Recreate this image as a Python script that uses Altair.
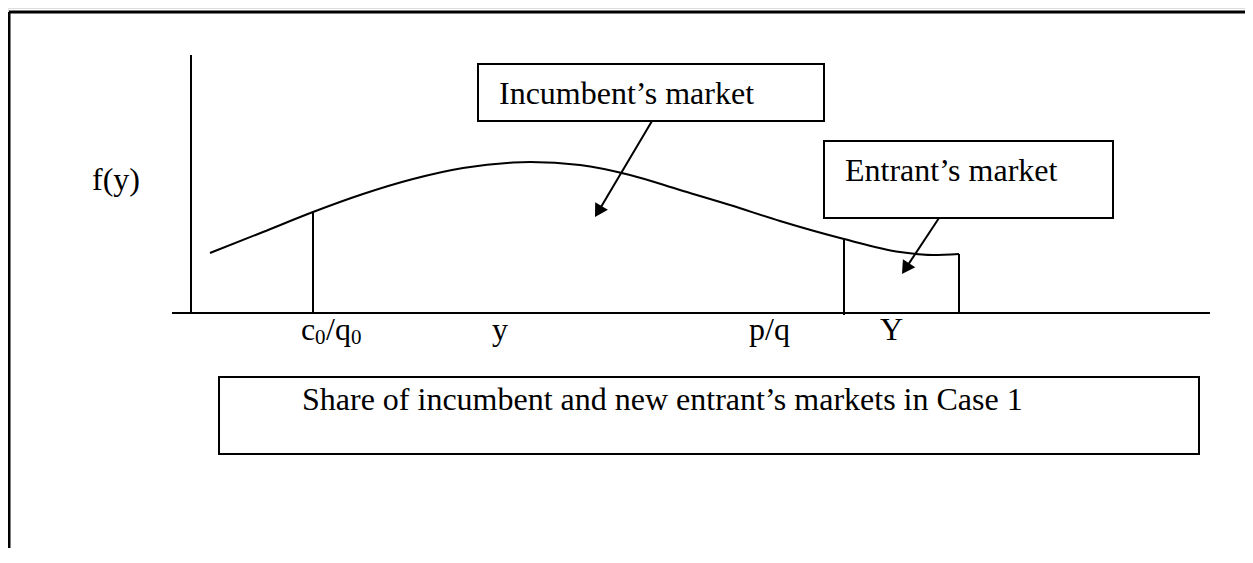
import math
import altair as alt
import pandas as pd

# ---- canvas (page pixels; the svg starts after the 8px page margin) ----
W, H = 1237, 540
X0, Y0 = 8, 8

# ---- density curve f(y) ----
curve_x = [210, 263, 313, 363, 413, 463, 513, 530, 580, 630, 680, 730, 780, 844, 900, 933, 959]
curve_y = [253, 232, 212, 194, 179, 168, 162.5, 162, 165, 175, 190, 205, 221, 239, 252, 255, 254]

# ---- frame, axes and cut-off lines ----
frame_x1 = [9, 9]
frame_y1 = [12, 12]
frame_x2 = [1253, 9]
frame_y2 = [12, 563]

axis_x1 = [191, 172]
axis_y1 = [55, 313]
axis_x2 = [191, 1210]
axis_y2 = [313, 313]

cut_x = [313, 844, 959]
cut_top = [212, 239, 254]
cut_bottom = [313, 315, 313]

# ---- boxes ----
box_names = ["incumbent", "entrant", "caption"]
box_x1 = [478, 824, 219]
box_y1 = [64, 141, 377]
box_x2 = [824, 1113, 1199]
box_y2 = [121, 218, 454]

# ---- labels ----
label_text = ["Incumbent\u2019s market", "Entrant\u2019s market", "f(y)", "c", "/q", "y", "p/q", "Y",
              "Share of incumbent and new entrant\u2019s markets in Case 1"]
label_x = [499, 845, 92, 301, 326, 492, 749, 880, 302]
label_y = [104, 181, 190, 340, 340, 340, 340, 340, 410]

sub_text = ["0", "0"]
sub_x = [315, 351]
sub_y = [344, 344]

# ---- arrows (start on box edge -> tip) ----
arrow_x1 = [652, 939]
arrow_y1 = [121, 218]
arrow_tx = [595, 902]
arrow_ty = [217, 274]

HEAD = 220  # symbol area
head_len = math.sqrt(3) / 2 * math.sqrt(HEAD)

shaft_rows, head_rows = [], []
for x1, y1, tx, ty in zip(arrow_x1, arrow_y1, arrow_tx, arrow_ty):
    dx, dy = tx - x1, ty - y1
    d = math.hypot(dx, dy)
    ux, uy = dx / d, dy / d
    shaft_rows.append({"x": x1, "y": y1, "x2": tx - ux * head_len * 0.8, "y2": ty - uy * head_len * 0.8})
    ang = math.degrees(math.atan2(dx, -dy)) % 360
    head_rows.append({"x": tx - ux * head_len / 2, "y": ty - uy * head_len / 2, "ang": ang})

xs = alt.Scale(domain=[X0, X0 + W], nice=False, zero=False)
ys = alt.Scale(domain=[Y0 + H, Y0], nice=False, zero=False)


def X(f):
    return alt.X(f, type="quantitative", scale=xs, axis=None)


def Y(f):
    return alt.Y(f, type="quantitative", scale=ys, axis=None)


def segs(x1, y1, x2, y2):
    return pd.DataFrame({"x": x1, "y": y1, "x2": x2, "y2": y2})


def rule_layer(df, width):
    return alt.Chart(df).mark_rule(color="black", strokeWidth=width).encode(
        x=X("x"), y=Y("y"), x2="x2:Q", y2="y2:Q")


frame = rule_layer(segs(frame_x1, frame_y1, frame_x2, frame_y2), 3)
axes = rule_layer(segs(axis_x1, axis_y1, axis_x2, axis_y2), 2)
cuts = rule_layer(segs(cut_x, cut_top, cut_x, cut_bottom), 2)

curve_df = pd.DataFrame({"x": curve_x, "y": curve_y, "o": list(range(len(curve_x)))})
curve = alt.Chart(curve_df).mark_line(color="black", strokeWidth=2, interpolate="monotone").encode(
    x=X("x"), y=Y("y"), order="o:Q")

box_df = pd.DataFrame({"name": box_names, "x": box_x1, "y": box_y1, "x2": box_x2, "y2": box_y2})
boxes = alt.Chart(box_df).mark_rect(fillOpacity=0, stroke="black", strokeWidth=2).encode(
    x=X("x"), y=Y("y"), x2="x2:Q", y2="y2:Q")

lab_df = pd.DataFrame({"t": label_text, "x": label_x, "y": label_y})
labels = alt.Chart(lab_df).mark_text(align="left", baseline="alphabetic", font="Liberation Serif",
                                     fontSize=32, color="black").encode(x=X("x"), y=Y("y"), text="t:N")

sub_df = pd.DataFrame({"t": sub_text, "x": sub_x, "y": sub_y})
subs = alt.Chart(sub_df).mark_text(align="left", baseline="alphabetic", font="Liberation Serif",
                                   fontSize=21, color="black").encode(x=X("x"), y=Y("y"), text="t:N")

shafts = alt.Chart(pd.DataFrame(shaft_rows)).mark_rule(color="black", strokeWidth=2).encode(
    x=X("x"), y=Y("y"), x2="x2:Q", y2="y2:Q")
heads = alt.Chart(pd.DataFrame(head_rows)).mark_point(shape="triangle-up", filled=True, color="black",
                                                      size=HEAD, opacity=1).encode(
    x=X("x"), y=Y("y"), angle=alt.Angle("ang:Q", scale=None))

chart = alt.layer(frame, axes, curve, cuts, boxes, labels, subs, shafts, heads).properties(
    width=W, height=H, autosize=alt.AutoSizeParams(type="none"), padding=0
).configure_view(strokeWidth=0).configure(background="white")

chart.save("out.html", embed_options={"renderer": "svg", "actions": False})
